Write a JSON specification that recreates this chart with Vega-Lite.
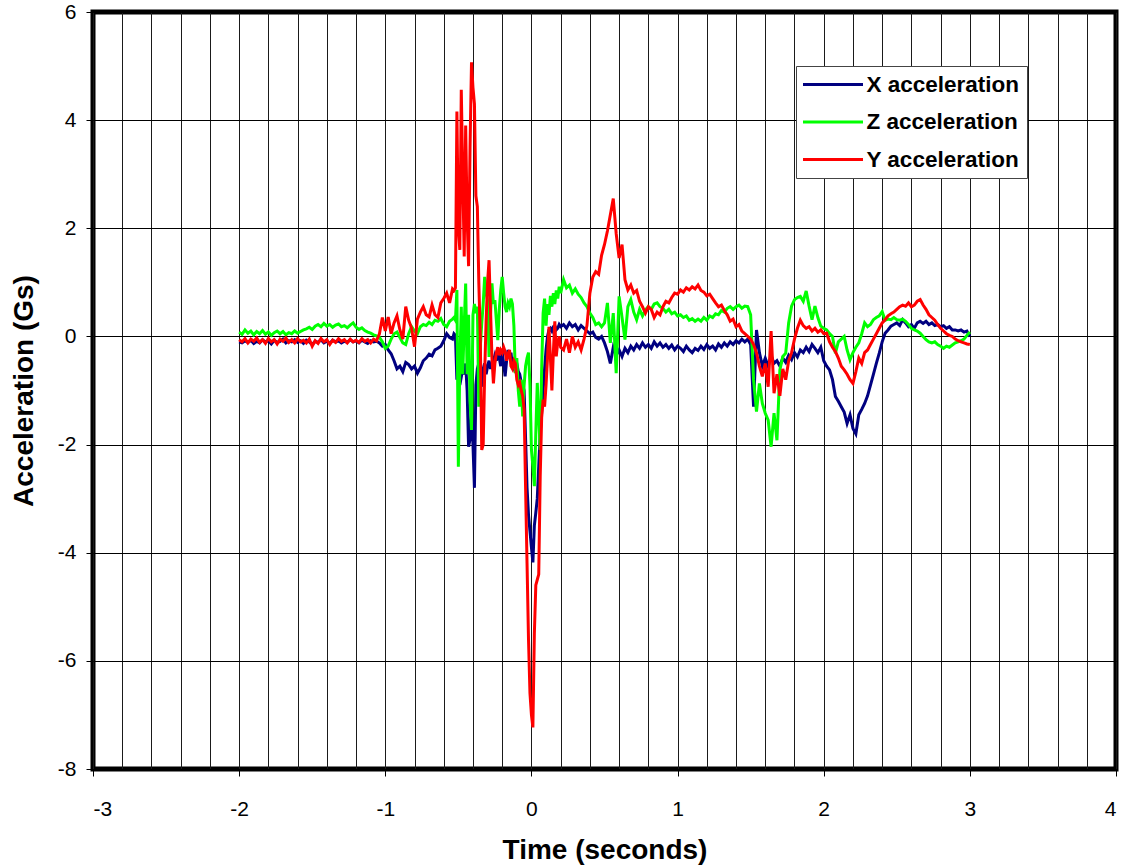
{
 "$schema": "https://vega.github.io/schema/vega-lite/v6.json",
 "width": 1023,
 "height": 757,
 "autosize": {"type": "none"},
 "padding": {"left": 93, "top": 12, "right": 11, "bottom": 96},
 "background": "white",
 "config": {"font": "Liberation Sans", "view": {"stroke": "black", "strokeWidth": 5}},
 "data": {"values": [
{"t":-2.00,"X":-0.10,"Z":0.08,"Y":-0.06},
{"t":-1.98,"X":-0.12,"Z":0.04,"Y":-0.10},
{"t":-1.96,"X":-0.08,"Z":0.12,"Y":-0.04},
{"t":-1.94,"X":-0.11,"Z":0.06,"Y":-0.12},
{"t":-1.92,"X":-0.07,"Z":0.10,"Y":-0.05},
{"t":-1.90,"X":-0.13,"Z":0.03,"Y":-0.09},
{"t":-1.88,"X":-0.09,"Z":0.09,"Y":-0.03},
{"t":-1.86,"X":-0.12,"Z":0.05,"Y":-0.11},
{"t":-1.84,"X":-0.06,"Z":0.11,"Y":-0.06},
{"t":-1.82,"X":-0.10,"Z":0.04,"Y":-0.13},
{"t":-1.80,"X":-0.08,"Z":0.08,"Y":-0.04},
{"t":-1.78,"X":-0.14,"Z":0.02,"Y":-0.10},
{"t":-1.76,"X":-0.07,"Z":0.07,"Y":-0.06},
{"t":-1.74,"X":-0.11,"Z":0.10,"Y":-0.14},
{"t":-1.72,"X":-0.09,"Z":0.05,"Y":-0.05},
{"t":-1.70,"X":-0.05,"Z":0.09,"Y":-0.09},
{"t":-1.68,"X":-0.12,"Z":0.03,"Y":-0.03},
{"t":-1.66,"X":-0.08,"Z":0.07,"Y":-0.11},
{"t":-1.64,"X":-0.10,"Z":0.05,"Y":-0.06},
{"t":-1.62,"X":-0.06,"Z":0.10,"Y":-0.12},
{"t":-1.60,"X":-0.11,"Z":0.06,"Y":-0.04},
{"t":-1.58,"X":-0.08,"Z":0.09,"Y":-0.10},
{"t":-1.56,"X":-0.13,"Z":0.12,"Y":-0.07},
{"t":-1.54,"X":-0.07,"Z":0.14,"Y":-0.12},
{"t":-1.52,"X":-0.10,"Z":0.17,"Y":-0.05},
{"t":-1.50,"X":-0.15,"Z":0.13,"Y":-0.18},
{"t":-1.48,"X":-0.09,"Z":0.19,"Y":-0.08},
{"t":-1.46,"X":-0.11,"Z":0.22,"Y":-0.13},
{"t":-1.44,"X":-0.06,"Z":0.18,"Y":-0.04},
{"t":-1.42,"X":-0.12,"Z":0.24,"Y":-0.10},
{"t":-1.40,"X":-0.09,"Z":0.19,"Y":-0.06},
{"t":-1.38,"X":-0.13,"Z":0.22,"Y":-0.15},
{"t":-1.36,"X":-0.07,"Z":0.17,"Y":-0.07},
{"t":-1.34,"X":-0.10,"Z":0.21,"Y":-0.11},
{"t":-1.32,"X":-0.08,"Z":0.23,"Y":-0.04},
{"t":-1.30,"X":-0.12,"Z":0.18,"Y":-0.09},
{"t":-1.28,"X":-0.09,"Z":0.20,"Y":-0.06},
{"t":-1.26,"X":-0.11,"Z":0.16,"Y":-0.12},
{"t":-1.24,"X":-0.06,"Z":0.21,"Y":-0.05},
{"t":-1.22,"X":-0.10,"Z":0.25,"Y":-0.10},
{"t":-1.20,"X":-0.08,"Z":0.17,"Y":-0.07},
{"t":-1.18,"X":-0.12,"Z":0.13,"Y":-0.11},
{"t":-1.16,"X":-0.07,"Z":0.16,"Y":-0.04},
{"t":-1.14,"X":-0.10,"Z":0.11,"Y":-0.09},
{"t":-1.12,"X":-0.13,"Z":0.08,"Y":-0.06},
{"t":-1.10,"X":-0.08,"Z":0.06,"Y":-0.12},
{"t":-1.08,"X":-0.10,"Z":0.03,"Y":-0.05},
{"t":-1.06,"X":-0.09,"Z":0.01,"Y":-0.08},
{"t":-1.04,"X":-0.12,"Z":-0.02,"Y":0.05},
{"t":-1.02,"X":-0.18,"Z":-0.10,"Y":0.35},
{"t":-1.00,"X":-0.15,"Z":-0.22,"Y":0.10},
{"t":-0.98,"X":-0.25,"Z":-0.18,"Y":0.36},
{"t":-0.96,"X":-0.32,"Z":-0.05,"Y":0.05},
{"t":-0.94,"X":-0.45,"Z":0.05,"Y":0.25},
{"t":-0.92,"X":-0.60,"Z":0.08,"Y":0.38},
{"t":-0.90,"X":-0.55,"Z":-0.02,"Y":0.12},
{"t":-0.88,"X":-0.65,"Z":-0.12,"Y":-0.05},
{"t":-0.86,"X":-0.48,"Z":-0.15,"Y":0.55},
{"t":-0.84,"X":-0.52,"Z":0.05,"Y":0.30},
{"t":-0.82,"X":-0.60,"Z":0.18,"Y":0.15},
{"t":-0.80,"X":-0.55,"Z":0.10,"Y":-0.19},
{"t":-0.78,"X":-0.68,"Z":0.05,"Y":0.32},
{"t":-0.76,"X":-0.58,"Z":0.18,"Y":0.45},
{"t":-0.74,"X":-0.45,"Z":0.22,"Y":0.55},
{"t":-0.72,"X":-0.40,"Z":0.20,"Y":0.40},
{"t":-0.70,"X":-0.33,"Z":0.26,"Y":0.36},
{"t":-0.68,"X":-0.36,"Z":0.22,"Y":0.58},
{"t":-0.66,"X":-0.25,"Z":0.30,"Y":0.40},
{"t":-0.64,"X":-0.22,"Z":0.28,"Y":0.35},
{"t":-0.62,"X":-0.18,"Z":0.33,"Y":0.62},
{"t":-0.60,"X":-0.08,"Z":0.22,"Y":0.70},
{"t":-0.58,"X":0.05,"Z":0.18,"Y":0.80},
{"t":-0.56,"X":-0.02,"Z":0.28,"Y":0.62},
{"t":-0.54,"X":-0.05,"Z":0.32,"Y":0.88},
{"t":-0.53,"X":0.05,"Z":0.35,"Y":0.85},
{"t":-0.52,"X":0.02,"Z":0.30,"Y":0.90},
{"t":-0.51,"X":-0.80,"Z":0.86,"Y":4.16},
{"t":-0.50,"X":-0.60,"Z":-2.41,"Y":2.00},
{"t":-0.49,"X":-0.90,"Z":-0.50,"Y":1.60},
{"t":-0.48,"X":-0.75,"Z":0.55,"Y":4.56},
{"t":-0.47,"X":-0.60,"Z":-0.70,"Y":3.00},
{"t":-0.46,"X":-0.70,"Z":0.20,"Y":1.48},
{"t":-0.45,"X":-0.50,"Z":0.98,"Y":3.90},
{"t":-0.44,"X":-1.00,"Z":-0.70,"Y":2.20},
{"t":-0.43,"X":-2.04,"Z":0.40,"Y":1.30},
{"t":-0.42,"X":-1.90,"Z":-1.20,"Y":3.50},
{"t":-0.41,"X":-1.30,"Z":-1.73,"Y":5.07},
{"t":-0.40,"X":-2.00,"Z":0.40,"Y":4.60},
{"t":-0.39,"X":-2.80,"Z":0.60,"Y":4.30},
{"t":-0.38,"X":-0.90,"Z":0.43,"Y":2.60},
{"t":-0.37,"X":-0.60,"Z":0.55,"Y":2.40},
{"t":-0.36,"X":-0.50,"Z":-1.30,"Y":1.00},
{"t":-0.35,"X":-0.80,"Z":-0.20,"Y":0.00},
{"t":-0.34,"X":-0.93,"Z":0.24,"Y":-2.10},
{"t":-0.33,"X":-0.60,"Z":0.60,"Y":-2.00},
{"t":-0.32,"X":-0.50,"Z":1.10,"Y":-0.70},
{"t":-0.31,"X":-0.70,"Z":0.80,"Y":0.30},
{"t":-0.30,"X":-0.55,"Z":0.67,"Y":1.00},
{"t":-0.29,"X":-0.45,"Z":-0.38,"Y":1.41},
{"t":-0.28,"X":-0.60,"Z":0.40,"Y":0.50},
{"t":-0.27,"X":-0.50,"Z":0.98,"Y":-0.40},
{"t":-0.26,"X":-0.45,"Z":0.60,"Y":-0.87},
{"t":-0.25,"X":-0.35,"Z":0.67,"Y":-0.50},
{"t":-0.24,"X":-0.45,"Z":0.30,"Y":-0.30},
{"t":-0.23,"X":-0.30,"Z":-0.07,"Y":-0.20},
{"t":-0.22,"X":-0.40,"Z":0.50,"Y":-0.35},
{"t":-0.21,"X":-0.55,"Z":0.85,"Y":-0.25},
{"t":-0.20,"X":-0.30,"Z":1.10,"Y":-0.30},
{"t":-0.19,"X":-0.50,"Z":0.80,"Y":-0.20},
{"t":-0.18,"X":-0.74,"Z":0.55,"Y":-0.28},
{"t":-0.17,"X":-0.45,"Z":0.45,"Y":-0.45},
{"t":-0.16,"X":-0.25,"Z":0.62,"Y":-0.32},
{"t":-0.15,"X":-0.40,"Z":0.55,"Y":-0.25},
{"t":-0.14,"X":-0.30,"Z":0.70,"Y":-0.55},
{"t":-0.13,"X":-0.55,"Z":0.60,"Y":-0.60},
{"t":-0.12,"X":-0.60,"Z":0.20,"Y":-0.45},
{"t":-0.11,"X":-0.42,"Z":-0.68,"Y":-0.50},
{"t":-0.10,"X":-0.50,"Z":-0.40,"Y":-0.80},
{"t":-0.09,"X":-0.65,"Z":-1.00,"Y":-0.90},
{"t":-0.08,"X":-0.70,"Z":-1.30,"Y":-0.85},
{"t":-0.07,"X":-0.85,"Z":-0.80,"Y":-1.00},
{"t":-0.06,"X":-0.90,"Z":-1.48,"Y":-1.10},
{"t":-0.05,"X":-1.00,"Z":-0.90,"Y":-1.35},
{"t":-0.04,"X":-1.90,"Z":-0.55,"Y":-2.80},
{"t":-0.03,"X":-2.80,"Z":-0.40,"Y":-4.20},
{"t":-0.02,"X":-3.30,"Z":-0.30,"Y":-5.60},
{"t":-0.01,"X":-3.60,"Z":-0.90,"Y":-6.60},
{"t":0.00,"X":-3.90,"Z":-2.10,"Y":-7.00},
{"t":0.01,"X":-4.18,"Z":-2.40,"Y":-7.23},
{"t":0.02,"X":-3.50,"Z":-2.77,"Y":-5.50},
{"t":0.03,"X":-3.26,"Z":-1.78,"Y":-4.60},
{"t":0.04,"X":-3.00,"Z":-0.86,"Y":-4.50},
{"t":0.05,"X":-2.40,"Z":-1.50,"Y":-4.40},
{"t":0.06,"X":-1.80,"Z":-2.10,"Y":-2.60},
{"t":0.07,"X":-1.40,"Z":-0.60,"Y":-1.50},
{"t":0.08,"X":-1.00,"Z":0.43,"Y":-1.17},
{"t":0.09,"X":-0.60,"Z":0.70,"Y":-1.30},
{"t":0.10,"X":-0.25,"Z":0.20,"Y":-0.90},
{"t":0.11,"X":0.00,"Z":0.60,"Y":-0.40},
{"t":0.12,"X":0.12,"Z":0.40,"Y":0.18},
{"t":0.13,"X":0.15,"Z":0.75,"Y":-0.40},
{"t":0.14,"X":0.10,"Z":0.55,"Y":-1.00},
{"t":0.15,"X":0.18,"Z":0.80,"Y":-0.30},
{"t":0.16,"X":0.20,"Z":0.60,"Y":0.28},
{"t":0.17,"X":0.12,"Z":0.85,"Y":-0.37},
{"t":0.18,"X":0.15,"Z":0.70,"Y":-0.10},
{"t":0.19,"X":0.22,"Z":0.92,"Y":0.00},
{"t":0.20,"X":0.18,"Z":0.80,"Y":-0.20},
{"t":0.22,"X":0.22,"Z":1.05,"Y":-0.25},
{"t":0.24,"X":0.15,"Z":0.90,"Y":-0.05},
{"t":0.26,"X":0.25,"Z":0.95,"Y":-0.30},
{"t":0.28,"X":0.18,"Z":0.80,"Y":0.00},
{"t":0.30,"X":0.22,"Z":0.88,"Y":-0.20},
{"t":0.32,"X":0.12,"Z":0.78,"Y":-0.10},
{"t":0.34,"X":0.20,"Z":0.72,"Y":-0.25},
{"t":0.36,"X":0.15,"Z":0.62,"Y":-0.05},
{"t":0.38,"X":0.10,"Z":0.55,"Y":0.20},
{"t":0.40,"X":0.05,"Z":0.43,"Y":0.80},
{"t":0.42,"X":0.08,"Z":0.35,"Y":1.10},
{"t":0.44,"X":-0.02,"Z":0.22,"Y":1.20},
{"t":0.46,"X":-0.05,"Z":0.25,"Y":1.15},
{"t":0.48,"X":0.00,"Z":0.18,"Y":1.50},
{"t":0.50,"X":-0.12,"Z":0.25,"Y":1.70},
{"t":0.52,"X":-0.28,"Z":0.62,"Y":1.95},
{"t":0.54,"X":-0.50,"Z":-0.12,"Y":2.25},
{"t":0.56,"X":-0.20,"Z":0.43,"Y":2.55},
{"t":0.58,"X":-0.35,"Z":-0.68,"Y":1.90},
{"t":0.60,"X":-0.25,"Z":0.74,"Y":1.45},
{"t":0.62,"X":-0.37,"Z":0.35,"Y":1.70},
{"t":0.64,"X":-0.22,"Z":-0.06,"Y":1.05},
{"t":0.66,"X":-0.30,"Z":0.55,"Y":0.86},
{"t":0.68,"X":-0.18,"Z":0.68,"Y":0.95},
{"t":0.70,"X":-0.25,"Z":0.45,"Y":0.80},
{"t":0.72,"X":-0.15,"Z":0.31,"Y":0.85},
{"t":0.74,"X":-0.22,"Z":0.50,"Y":0.65},
{"t":0.76,"X":-0.12,"Z":0.38,"Y":0.55},
{"t":0.78,"X":-0.20,"Z":0.49,"Y":0.43},
{"t":0.80,"X":-0.15,"Z":0.55,"Y":0.55},
{"t":0.82,"X":-0.22,"Z":0.50,"Y":0.50},
{"t":0.84,"X":-0.10,"Z":0.60,"Y":0.35},
{"t":0.86,"X":-0.18,"Z":0.62,"Y":0.45},
{"t":0.88,"X":-0.12,"Z":0.55,"Y":0.40},
{"t":0.90,"X":-0.20,"Z":0.52,"Y":0.55},
{"t":0.92,"X":-0.15,"Z":0.45,"Y":0.65},
{"t":0.94,"X":-0.22,"Z":0.50,"Y":0.62},
{"t":0.96,"X":-0.16,"Z":0.42,"Y":0.72},
{"t":0.98,"X":-0.25,"Z":0.45,"Y":0.80},
{"t":1.00,"X":-0.18,"Z":0.38,"Y":0.78},
{"t":1.02,"X":-0.22,"Z":0.40,"Y":0.86},
{"t":1.04,"X":-0.28,"Z":0.35,"Y":0.82},
{"t":1.06,"X":-0.18,"Z":0.38,"Y":0.90},
{"t":1.08,"X":-0.25,"Z":0.30,"Y":0.86},
{"t":1.10,"X":-0.30,"Z":0.33,"Y":0.92},
{"t":1.12,"X":-0.22,"Z":0.28,"Y":0.88},
{"t":1.14,"X":-0.26,"Z":0.32,"Y":0.95},
{"t":1.16,"X":-0.18,"Z":0.28,"Y":0.85},
{"t":1.18,"X":-0.24,"Z":0.35,"Y":0.82},
{"t":1.20,"X":-0.15,"Z":0.30,"Y":0.75},
{"t":1.22,"X":-0.22,"Z":0.38,"Y":0.78},
{"t":1.24,"X":-0.18,"Z":0.35,"Y":0.70},
{"t":1.26,"X":-0.25,"Z":0.42,"Y":0.62},
{"t":1.28,"X":-0.14,"Z":0.40,"Y":0.55},
{"t":1.30,"X":-0.20,"Z":0.48,"Y":0.58},
{"t":1.32,"X":-0.12,"Z":0.45,"Y":0.48},
{"t":1.34,"X":-0.18,"Z":0.52,"Y":0.40},
{"t":1.36,"X":-0.10,"Z":0.55,"Y":0.28},
{"t":1.38,"X":-0.15,"Z":0.50,"Y":0.32},
{"t":1.40,"X":-0.08,"Z":0.55,"Y":0.18},
{"t":1.42,"X":-0.12,"Z":0.58,"Y":0.22},
{"t":1.44,"X":-0.05,"Z":0.52,"Y":0.10},
{"t":1.46,"X":-0.10,"Z":0.56,"Y":0.05},
{"t":1.48,"X":-0.05,"Z":0.55,"Y":0.00},
{"t":1.50,"X":-0.15,"Z":0.40,"Y":-0.05},
{"t":1.52,"X":-1.30,"Z":-0.80,"Y":-0.15},
{"t":1.54,"X":0.12,"Z":-1.39,"Y":-0.30},
{"t":1.56,"X":-0.30,"Z":-0.87,"Y":-0.55},
{"t":1.58,"X":-0.55,"Z":-1.24,"Y":-0.74},
{"t":1.60,"X":-0.40,"Z":-1.42,"Y":-0.50},
{"t":1.62,"X":-0.55,"Z":-1.55,"Y":-0.93},
{"t":1.64,"X":-0.35,"Z":-2.04,"Y":0.10},
{"t":1.66,"X":-0.50,"Z":-1.42,"Y":-1.05},
{"t":1.68,"X":-0.45,"Z":-1.92,"Y":-0.70},
{"t":1.70,"X":-0.55,"Z":-0.62,"Y":-1.10},
{"t":1.72,"X":-0.40,"Z":-0.37,"Y":-0.60},
{"t":1.74,"X":-0.48,"Z":-0.31,"Y":-0.80},
{"t":1.76,"X":-0.35,"Z":0.25,"Y":-0.45},
{"t":1.78,"X":-0.43,"Z":0.56,"Y":-0.30},
{"t":1.80,"X":-0.30,"Z":0.68,"Y":-0.05},
{"t":1.82,"X":-0.38,"Z":0.72,"Y":0.15},
{"t":1.84,"X":-0.25,"Z":0.74,"Y":0.30},
{"t":1.86,"X":-0.30,"Z":0.65,"Y":0.20},
{"t":1.88,"X":-0.20,"Z":0.84,"Y":0.15},
{"t":1.90,"X":-0.28,"Z":0.56,"Y":0.18},
{"t":1.92,"X":-0.15,"Z":0.31,"Y":0.10},
{"t":1.94,"X":-0.22,"Z":0.56,"Y":0.15},
{"t":1.96,"X":-0.30,"Z":0.35,"Y":0.08},
{"t":1.98,"X":-0.20,"Z":0.19,"Y":0.12},
{"t":2.00,"X":-0.45,"Z":0.15,"Y":0.05},
{"t":2.02,"X":-0.55,"Z":0.12,"Y":0.06},
{"t":2.04,"X":-0.62,"Z":0.05,"Y":-0.10},
{"t":2.06,"X":-0.80,"Z":0.00,"Y":-0.20},
{"t":2.08,"X":-1.11,"Z":-0.31,"Y":-0.28},
{"t":2.10,"X":-1.20,"Z":-0.10,"Y":-0.40},
{"t":2.12,"X":-1.30,"Z":-0.05,"Y":-0.55},
{"t":2.14,"X":-1.40,"Z":0.00,"Y":-0.62},
{"t":2.16,"X":-1.61,"Z":-0.25,"Y":-0.70},
{"t":2.18,"X":-1.45,"Z":-0.43,"Y":-0.80},
{"t":2.20,"X":-1.70,"Z":-0.30,"Y":-0.87},
{"t":2.22,"X":-1.80,"Z":-0.20,"Y":-0.65},
{"t":2.24,"X":-1.45,"Z":-0.12,"Y":-0.40},
{"t":2.26,"X":-1.35,"Z":0.05,"Y":-0.50},
{"t":2.28,"X":-1.24,"Z":0.25,"Y":-0.30},
{"t":2.30,"X":-1.10,"Z":0.18,"Y":-0.25},
{"t":2.32,"X":-0.90,"Z":0.22,"Y":-0.15},
{"t":2.34,"X":-0.70,"Z":0.31,"Y":-0.05},
{"t":2.36,"X":-0.50,"Z":0.35,"Y":0.05},
{"t":2.38,"X":-0.31,"Z":0.38,"Y":0.15},
{"t":2.40,"X":-0.10,"Z":0.46,"Y":0.25},
{"t":2.42,"X":0.06,"Z":0.30,"Y":0.31},
{"t":2.44,"X":0.12,"Z":0.32,"Y":0.38},
{"t":2.46,"X":0.19,"Z":0.31,"Y":0.42},
{"t":2.48,"X":0.22,"Z":0.35,"Y":0.45},
{"t":2.50,"X":0.25,"Z":0.31,"Y":0.50},
{"t":2.52,"X":0.20,"Z":0.30,"Y":0.55},
{"t":2.54,"X":0.31,"Z":0.32,"Y":0.58},
{"t":2.56,"X":0.25,"Z":0.28,"Y":0.56},
{"t":2.58,"X":0.18,"Z":0.22,"Y":0.62},
{"t":2.60,"X":0.22,"Z":0.15,"Y":0.55},
{"t":2.62,"X":0.15,"Z":0.12,"Y":0.58},
{"t":2.64,"X":0.25,"Z":0.10,"Y":0.65},
{"t":2.66,"X":0.28,"Z":0.06,"Y":0.68},
{"t":2.68,"X":0.24,"Z":0.00,"Y":0.58},
{"t":2.70,"X":0.28,"Z":-0.06,"Y":0.50},
{"t":2.72,"X":0.22,"Z":-0.10,"Y":0.40},
{"t":2.74,"X":0.25,"Z":-0.12,"Y":0.35},
{"t":2.76,"X":0.20,"Z":-0.10,"Y":0.30},
{"t":2.78,"X":0.22,"Z":-0.15,"Y":0.22},
{"t":2.80,"X":0.18,"Z":-0.18,"Y":0.15},
{"t":2.82,"X":0.20,"Z":-0.22,"Y":0.10},
{"t":2.84,"X":0.15,"Z":-0.18,"Y":0.05},
{"t":2.86,"X":0.18,"Z":-0.20,"Y":0.02},
{"t":2.88,"X":0.12,"Z":-0.16,"Y":0.00},
{"t":2.90,"X":0.12,"Z":-0.12,"Y":-0.05},
{"t":2.92,"X":0.10,"Z":-0.10,"Y":-0.08},
{"t":2.94,"X":0.12,"Z":-0.08,"Y":-0.10},
{"t":2.96,"X":0.08,"Z":-0.05,"Y":-0.12},
{"t":2.98,"X":0.10,"Z":0.02,"Y":-0.14},
{"t":3.00,"X":0.00,"Z":0.08,"Y":-0.15}
 ]},
 "transform": [{"fold": ["X", "Z", "Y"], "as": ["series", "v"]}],
 "mark": {"type": "line", "strokeWidth": 3, "clip": true},
 "encoding": {
  "x": {
   "field": "t", "type": "quantitative",
   "scale": {"domain": [-3, 4], "nice": false, "zero": false},
   "axis": {
    "values": [-3,-2.8,-2.6,-2.4,-2.2,-2,-1.8,-1.6,-1.4,-1.2,-1,-0.8,-0.6,-0.4,-0.2,0,0.2,0.4,0.6,0.8,1,1.2,1.4,1.6,1.8,2,2.2,2.4,2.6,2.8,3,3.2,3.4,3.6,3.8,4],
    "labelExpr": "abs(datum.value - round(datum.value)) < 0.001 ? '' + round(datum.value) : ''",
    "grid": true, "gridColor": "#1a1a1a", "gridOpacity": 1, "gridWidth": 1,
    "domain": false,
    "ticks": true, "tickSize": 7, "tickColor": "#000000",
    "tickOpacity": {"condition": {"test": "abs(datum.value - round(datum.value)) > 0.001", "value": 0}, "value": 1},
    "labelFontSize": 21, "labelColor": "#000000", "labelPadding": 22, "labelFont": "Liberation Sans",
    "title": "Time (seconds)", "titleFontSize": 28, "titleFontWeight": "bold", "titleColor": "#000000", "titlePadding": 17, "titleFont": "Liberation Sans"
   }
  },
  "y": {
   "field": "v", "type": "quantitative",
   "scale": {"domain": [-8, 6], "nice": false, "zero": false},
   "axis": {
    "values": [-8,-6,-4,-2,0,2,4,6],
    "labelExpr": "'' + datum.value",
    "grid": true, "gridColor": "#000000", "gridOpacity": 1, "gridWidth": 1,
    "domain": false,
    "ticks": true, "tickSize": 7, "tickColor": "#000000",
    "labelFontSize": 21, "labelColor": "#000000", "labelPadding": 10, "labelFont": "Liberation Sans",
    "title": "Acceleration (Gs)", "titleFontSize": 28, "titleFontWeight": "bold", "titleColor": "#000000", "titlePadding": 19, "titleFont": "Liberation Sans"
   }
  },
  "color": {
   "field": "series", "type": "nominal",
   "scale": {"domain": ["X", "Z", "Y"], "range": ["#000080", "#00ff00", "#ff0000"]},
   "legend": {
    "title": null, "orient": "none", "legendX": 703, "legendY": 54, "direction": "vertical",
    "fillColor": "white", "strokeColor": "#444444", "padding": 7,
    "symbolType": "M-3,0H3", "symbolSize": 400, "symbolStrokeWidth": 3, "symbolOffset": 18.5,
    "labelFontSize": 22.5, "labelFontWeight": "bold", "labelColor": "#000000", "labelFont": "Liberation Sans",
    "labelExpr": "datum.label + ' acceleration'", "labelOffset": 22, "labelLimit": 400, "rowPadding": 14.5
   }
  }
 }
}
